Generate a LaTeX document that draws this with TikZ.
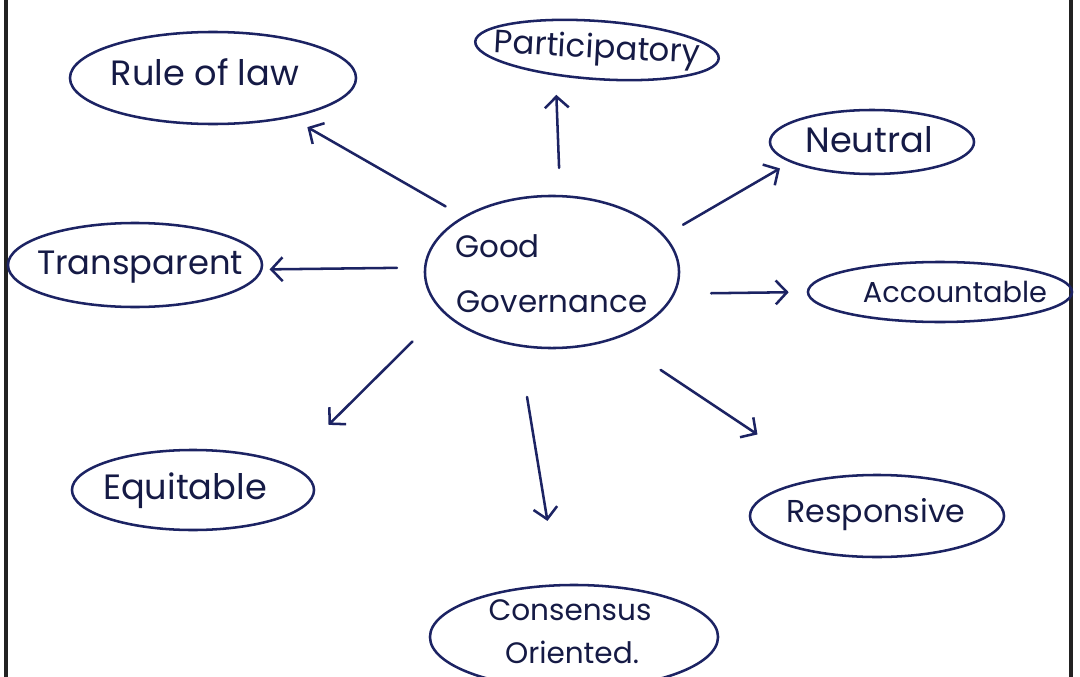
\documentclass[tikz,border=0pt]{standalone}
\usepackage{fontspec}
\setmainfont{Poppins}
\usetikzlibrary{shapes.geometric,arrows.meta}
\definecolor{ink}{HTML}{1C2363}
\definecolor{txtink}{HTML}{151A45}
\definecolor{frame}{HTML}{222222}
\begin{document}
\begin{tikzpicture}[x=0.025cm,y=-0.025cm,
  oval/.style={draw=ink, line width=1.8pt, ellipse, inner sep=0pt},
  lbl/.style={text=txtink, inner sep=0pt, font=\fontsize{#1}{#1}\selectfont},
  lbl/.default=22,
  arr/.style={draw=ink, line width=1.8pt, line cap=round,
    -{Straight Barb[length=8pt,width=17pt,line width=1.8pt]}},
  rim/.style={draw=frame, line width=3.2pt}
]
\useasboundingbox (0,0) rectangle (1080,677);
\clip (0,0) rectangle (1080,677);

% frame lines
\draw[rim] (6,0) -- (6,677);
\draw[rim] (1071,0) -- (1071,677);

% ovals
\node[oval, minimum width=7.15cm, minimum height=2.3cm] (rule) at (213,78) {};
\node[oval, minimum width=6.1cm, minimum height=1.45cm, rotate=-4] (part) at (597,50) {};
\node[oval, minimum width=5.1cm, minimum height=1.6cm] (neut) at (872,142) {};
\node[oval, minimum width=6.35cm, minimum height=2.1cm] (transp) at (135,265) {};
\node[oval, minimum width=6.35cm, minimum height=3.8cm] (gg) at (552,272) {};
\node[oval, minimum width=6.6cm, minimum height=1.5cm] (acc) at (940,292) {};
\node[oval, minimum width=6.05cm, minimum height=2.0cm] (equit) at (193,490) {};
\node[oval, minimum width=6.35cm, minimum height=2.05cm] (resp) at (877,516) {};
\node[oval, minimum width=7.2cm, minimum height=2.6cm] (cons) at (574,637) {};

% labels
\node[lbl=25] (ruletxt) at (205,72) {Rule of law};
\node[lbl=23, rotate=-3] (parttxt) at (597,50) {Participatory};
\node[lbl=25] (neuttxt) at (869,140) {Neutral};
\node[lbl=24] (transptxt) at (140,267) {Transparent};
\node[lbl=22, anchor=west] (ggtxta) at (455,246) {Good};
\node[lbl=22] (ggtxtb) at (552,302) {Governance};
\node[lbl=20.5] (acctxt) at (955,292) {Accountable};
\node[lbl=25] (equittxt) at (185,491) {Equitable};
\node[lbl=22.5] (resptxt) at (876,515) {Responsive};
\node[lbl=21] (constxta) at (570,610) {Consensus};
\node[lbl=21] (constxtb) at (572,652) {Oriented.};

% arrows
\draw[arr, shorten <=0.5cm, shorten >=0.47cm] (gg.148.6) -- (rule.333.7);
\draw[arr, shorten <=0.675cm, shorten >=0.475cm] (gg.84) -- (part.216.8);
\draw[arr, shorten <=0.525cm, shorten >=0.3cm] (gg.18.1) -- (neut.194);
\draw[arr, shorten <=0.675cm, shorten >=0.175cm] (gg.178.2) -- (transp.358.7);
\draw[arr, shorten <=0.9cm, shorten >=0.45cm] (gg.350.1) -- (acc.180);
\draw[arr, shorten <=1.05cm, shorten >=1.4cm] (gg.200.1) -- (equit.15.9);
\draw[arr, shorten <=1.275cm, shorten >=1.6cm] (gg.246) -- (cons.107.9);
\draw[arr, shorten <=1.375cm, shorten >=1.95cm] (gg.313.6) -- (resp.145);
\end{tikzpicture}
\end{document}
